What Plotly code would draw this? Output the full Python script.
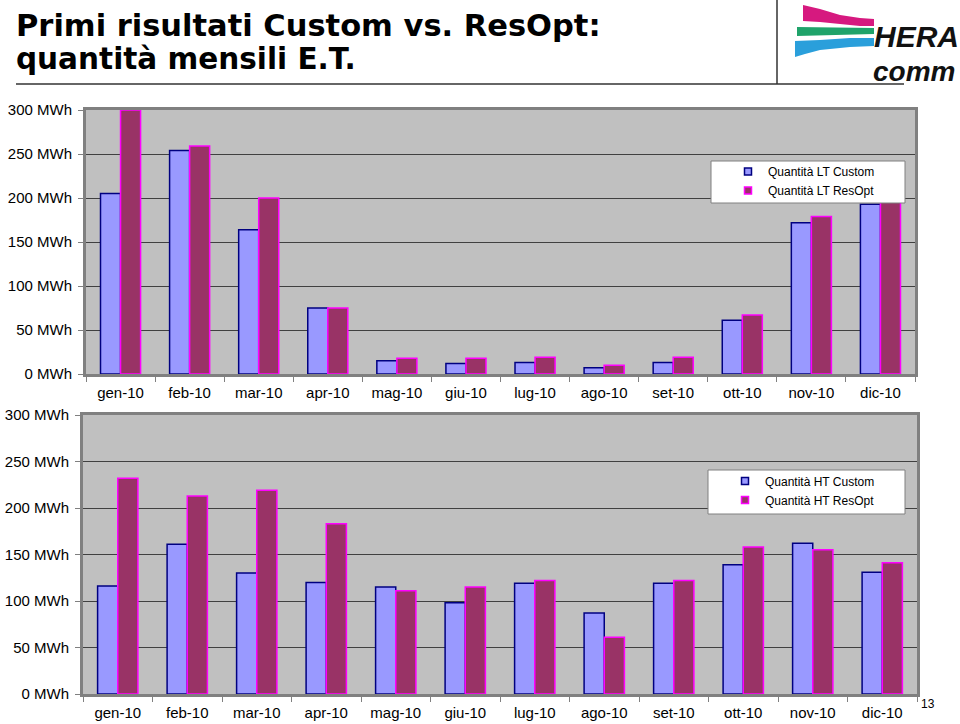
import plotly.graph_objects as go

W, H = 960, 724

months = ["gen-10", "feb-10", "mar-10", "apr-10", "mag-10", "giu-10",
          "lug-10", "ago-10", "set-10", "ott-10", "nov-10", "dic-10"]

lt_custom = [205, 254, 164, 75, 15, 12, 13, 7, 13, 61, 172, 193]
lt_resopt = [300, 259, 200, 75, 18, 18, 19, 10, 19, 67, 179, 203]

ht_custom = [116, 161, 130, 120, 115, 98, 119, 87, 119, 139, 162, 131]
ht_resopt = [232, 213, 219, 183, 111, 115, 122, 61, 122, 158, 155, 141]

y_ticks = [0, 50, 100, 150, 200, 250, 300]
y_ticktext = [f"{v} MWh" for v in y_ticks]

title_line1 = "Primi risultati Custom vs. ResOpt:"
title_line2 = "quantità mensili E.T."

C_FILL, C_LINE = "#9999FF", "#000080"
R_FILL, R_LINE = "#993366", "#FF00FF"
BG = "#C0C0C0"
FRAME = "#808080"
FONT = "Liberation Sans, Arial, sans-serif"


def px(x):
    return x / W


def py(y):
    return 1 - y / H


fig = go.Figure()

# bars
fig.add_trace(go.Bar(x=months, y=lt_custom, name="Quantità LT Custom",
                     marker=dict(color=C_FILL, line=dict(color=C_LINE, width=1.5)),
                     xaxis="x", yaxis="y", showlegend=False))
fig.add_trace(go.Bar(x=months, y=lt_resopt, name="Quantità LT ResOpt",
                     marker=dict(color=R_FILL, line=dict(color=R_LINE, width=1.5)),
                     xaxis="x", yaxis="y", showlegend=False))
fig.add_trace(go.Bar(x=months, y=ht_custom, name="Quantità HT Custom",
                     marker=dict(color=C_FILL, line=dict(color=C_LINE, width=1.5)),
                     xaxis="x2", yaxis="y2", showlegend=False))
fig.add_trace(go.Bar(x=months, y=ht_resopt, name="Quantità HT ResOpt",
                     marker=dict(color=R_FILL, line=dict(color=R_LINE, width=1.5)),
                     xaxis="x2", yaxis="y2", showlegend=False))

# legend entries (small square swatches)
for nm, fc, lc, lg in [("Quantità LT Custom", C_FILL, C_LINE, "legend"),
                       ("Quantità LT ResOpt", R_FILL, R_LINE, "legend"),
                       ("Quantità HT Custom", C_FILL, C_LINE, "legend2"),
                       ("Quantità HT ResOpt", R_FILL, R_LINE, "legend2")]:
    ax = "x" if lg == "legend" else "x2"
    ay = "y" if lg == "legend" else "y2"
    fig.add_trace(go.Scatter(x=[None], y=[None], mode="markers", name=nm,
                             marker=dict(symbol="square", size=7, color=fc,
                                         line=dict(color=lc, width=1.5)),
                             xaxis=ax, yaxis=ay, legend=lg, showlegend=True))

xcommon = dict(type="category", tickson="boundaries", ticks="outside", ticklen=5,
               tickcolor=FRAME, tickwidth=1, showline=True, linecolor=FRAME,
               linewidth=3, mirror=True, showgrid=False, automargin=False,
               tickfont=dict(family=FONT, size=15, color="black"),
               ticklabelstandoff=3, fixedrange=True)
ycommon = dict(range=[0, 300], tickvals=y_ticks, ticktext=y_ticktext,
               ticks="outside", ticklen=5, tickcolor=FRAME, showline=True,
               linecolor=FRAME, linewidth=3, mirror=True, showgrid=True,
               gridcolor="#404040", gridwidth=1, zeroline=False, automargin=False,
               tickfont=dict(family=FONT, size=15, color="black"),
               ticklabelstandoff=3, fixedrange=True)

legcommon = dict(bgcolor="rgba(0,0,0,0)", borderwidth=0, xanchor="left",
                 yanchor="top", tracegroupgap=0, itemwidth=30,
                 font=dict(family=FONT, size=12, color="black"))

shapes = []
# legend boxes
shapes.append(dict(type="rect", xref="paper", yref="paper",
                   x0=px(711), x1=px(905), y0=py(203), y1=py(161),
                   fillcolor="white", line=dict(color=FRAME, width=1), layer="above"))
shapes.append(dict(type="rect", xref="paper", yref="paper",
                   x0=px(708), x1=px(905), y0=py(514), y1=py(470),
                   fillcolor="white", line=dict(color=FRAME, width=1), layer="above"))
# header rules
shapes.append(dict(type="line", xref="paper", yref="paper",
                   x0=px(16), x1=px(904), y0=py(84), y1=py(84),
                   line=dict(color="#333333", width=1.5)))
shapes.append(dict(type="line", xref="paper", yref="paper",
                   x0=px(777), x1=px(777), y0=py(0), y1=py(84),
                   line=dict(color="#333333", width=1.5)))


def path(pts):
    s = "M " + " L ".join(f"{px(x):.5f},{py(y):.5f}" for x, y in pts) + " Z"
    return s


# logo swooshes
shapes.append(dict(type="path", xref="paper", yref="paper",
                   path=path([(803, 5), (820, 9), (840, 15), (860, 18), (874, 19),
                              (874, 26), (860, 26), (840, 24), (820, 22), (803, 21)]),
                   fillcolor="#D6197F", line=dict(width=0)))
shapes.append(dict(type="path", xref="paper", yref="paper",
                   path=path([(797, 27), (874, 28), (874, 34), (797, 36)]),
                   fillcolor="#1FA36A", line=dict(width=0)))
shapes.append(dict(type="path", xref="paper", yref="paper",
                   path=path([(795, 41), (820, 40), (850, 38), (874, 38),
                              (874, 46), (850, 47), (820, 50), (805, 54), (795, 57)]),
                   fillcolor="#2A9FDB", line=dict(width=0)))

annotations = [
    dict(text=title_line1, x=px(14), y=py(26), xref="paper", yref="paper",
         xanchor="left", yanchor="middle", showarrow=False,
         font=dict(family="DejaVu Sans", size=30.5, color="black", weight="bold")),
    dict(text=title_line2, x=px(14), y=py(59), xref="paper", yref="paper",
         xanchor="left", yanchor="middle", showarrow=False,
         font=dict(family="DejaVu Sans", size=29.5, color="black", weight="bold")),
    dict(text="<b><i>HERA</i></b>", x=px(961), y=py(37), xref="paper", yref="paper",
         xanchor="right", yanchor="middle", showarrow=False,
         font=dict(family="Liberation Sans", size=30, color="#111111")),
    dict(text="<b><i>comm</i></b>", x=px(957), y=py(71), xref="paper", yref="paper",
         xanchor="right", yanchor="middle", showarrow=False,
         font=dict(family="Liberation Sans, Arial", size=28, color="#111111")),
    dict(text="13", x=px(928), y=py(704), xref="paper", yref="paper",
         xanchor="center", yanchor="middle", showarrow=False,
         font=dict(family=FONT, size=12, color="black")),
]

fig.update_layout(
    width=W, height=H, autosize=False,
    margin=dict(l=0, r=0, t=0, b=0, autoexpand=False),
    paper_bgcolor="white", plot_bgcolor=BG,
    barmode="group", bargap=0.42, bargroupgap=0,
    xaxis=dict(domain=[px(86), px(915)], anchor="y", **xcommon),
    yaxis=dict(domain=[py(374), py(110)], anchor="x", **ycommon),
    xaxis2=dict(domain=[px(83), px(917)], anchor="y2", **xcommon),
    yaxis2=dict(domain=[py(694), py(415)], anchor="x2", **ycommon),
    legend=dict(x=px(728), y=py(157), **legcommon),
    legend2=dict(x=px(725), y=py(466.5), **legcommon),
    shapes=shapes,
    annotations=annotations,
)

fig.write_html("out.html",
               config={"displayModeBar": False},
               post_script="document.body.style.margin='0';"
                           "document.body.style.overflow='hidden';")
